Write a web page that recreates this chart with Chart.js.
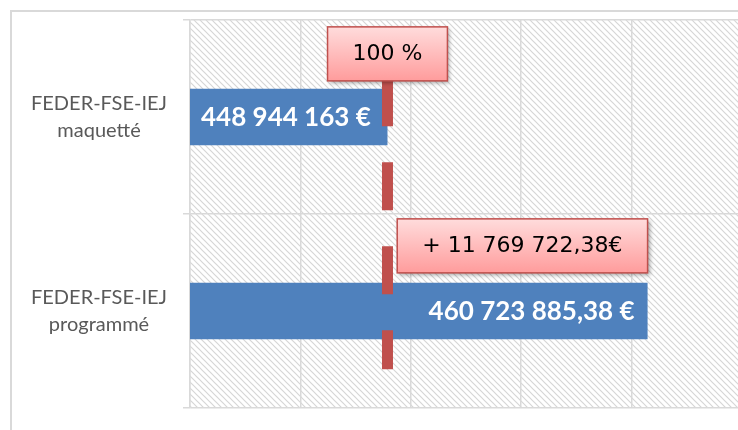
<!DOCTYPE html>
<html>
<head>
<meta charset="utf-8">
<script src="https://cdn.jsdelivr.net/npm/chart.js@4.4.1/dist/chart.umd.min.js"></script>
<style>
  html, body { margin: 0; padding: 0; background: #fff; overflow: hidden; }
  #frame { position: absolute; left: 10px; top: 10px; width: 800px; height: 500px;
           border-top: 2px solid #d9d9d9; border-left: 2px solid #d9d9d9; }
  #wrap { position: absolute; left: 0; top: 0; width: 752px; height: 430px; }
</style>
</head>
<body>
<div id="frame"></div>
<div id="wrap"><canvas id="budgetChart"></canvas></div>
<script>
"use strict"

var categories = [["FEDER-FSE-IEJ", "maquetté"], ["FEDER-FSE-IEJ", "programmé"]];
var amounts = [448944163, 460723885.38];
var amountLabels = ["448 944 163 €", "460 723 885,38 €"];
var targetValue = 448944163;
var calloutLabels = ["100 %", "+ 11 769 722,38€"];
var axisMin = 440000000;
var axisMax = 465000000;
var axisStep = 5000000;

function makeHatch() {
  var c = document.createElement('canvas');
  c.width = 6; c.height = 6;
  var g = c.getContext('2d');
  g.fillStyle = '#fff';
  g.fillRect(0, 0, 6, 6);
  g.strokeStyle = '#d6d6d6';
  g.lineWidth = 1.2;
  g.beginPath();
  g.moveTo(-1, -1); g.lineTo(7, 7);
  g.moveTo(-1, 5); g.lineTo(1, 7);
  g.moveTo(5, -1); g.lineTo(7, 1);
  g.stroke();
  return c;
}

function drawCallout(ctx, text, ax, align, bottom) {
  ctx.font = '22px "DejaVu Sans"';
  var w = ctx.measureText(text).width + 50;
  var h = 54;
  var left = align === 'center' ? ax - w / 2 : ax - w;
  var top = bottom - h;
  var grad = ctx.createLinearGradient(0, top, 0, top + h);
  grad.addColorStop(0, '#ffdcdc');
  grad.addColorStop(1, '#ff9c9c');
  ctx.save();
  ctx.shadowColor = 'rgba(0,0,0,0.35)';
  ctx.shadowBlur = 4;
  ctx.shadowOffsetX = 2;
  ctx.shadowOffsetY = 2;
  ctx.fillStyle = grad;
  ctx.fillRect(left, top, w, h);
  ctx.restore();
  ctx.strokeStyle = '#c0504d';
  ctx.lineWidth = 1.5;
  ctx.strokeRect(left, top, w, h);
  ctx.fillStyle = '#000';
  ctx.textAlign = 'center';
  ctx.textBaseline = 'middle';
  ctx.fillText(text, left + w / 2, top + h / 2);
}

var hatch = makeHatch();

var decorPlugin = {
  id: 'decor',
  beforeDraw: function(chart) {
    var ctx = chart.ctx, a = chart.chartArea;
    ctx.save();
    ctx.fillStyle = ctx.createPattern(hatch, 'repeat');
    ctx.fillRect(a.left, a.top, a.right - a.left, a.bottom - a.top);
    ctx.restore();
  },
  afterDatasetsDraw: function(chart) {
    var ctx = chart.ctx, a = chart.chartArea;
    var xs = chart.scales.x, ys = chart.scales.y;
    var bars = chart.getDatasetMeta(0).data;
    ctx.save();

    // amounts inside the bars
    ctx.font = 'bold 26px Lato';
    ctx.fillStyle = '#fff';
    ctx.textBaseline = 'middle';
    ctx.textAlign = 'left';
    ctx.fillText(amountLabels[0], a.left + 11, bars[0].y + 1);
    ctx.textAlign = 'right';
    ctx.fillText(amountLabels[1], bars[1].x - 13, bars[1].y + 1);

    // dashed 100 % line
    var tx = xs.getPixelForValue(targetValue);
    ctx.strokeStyle = '#c0504d';
    ctx.lineWidth = 11;
    ctx.setLineDash([48, 36]);
    ctx.beginPath();
    ctx.moveTo(tx, ys.getPixelForValue(-0.2));
    ctx.lineTo(tx, ys.getPixelForValue(1.3));
    ctx.stroke();
    ctx.setLineDash([]);

    // callouts
    drawCallout(ctx, calloutLabels[0], tx, 'center', bars[0].y - bars[0].height / 2 - 8);
    drawCallout(ctx, calloutLabels[1], bars[1].x, 'right', bars[1].y - bars[1].height / 2 - 10);
    ctx.restore();
  }
};

var ctx = document.getElementById("budgetChart").getContext('2d');
var budgetChart = new Chart(ctx, {
  type: 'bar',
  data: {
    labels: categories,
    datasets: [{
      data: amounts,
      backgroundColor: '#4f81bd',
      barPercentage: 0.29,
      categoryPercentage: 1
    }]
  },
  options: {
    indexAxis: 'y',
    responsive: true,
    maintainAspectRatio: false,
    animation: false,
    layout: { padding: { left: 12, top: 20, right: 10, bottom: 22 } },
    plugins: {
      legend: { display: false },
      tooltip: { enabled: false }
    },
    scales: {
      x: {
        min: axisMin,
        max: axisMax,
        ticks: { display: false, stepSize: axisStep },
        grid: { color: '#d9d9d9', lineWidth: 1.5, drawTicks: false },
        border: { display: false },
        afterFit: function(scale) { scale.height = 0; }
      },
      y: {
        afterFit: function(scale) {
          scale.width = 178;
          scale.paddingTop = 0;
          scale.paddingBottom = 0;
        },
        ticks: {
          color: '#595959',
          font: { family: 'Lato', size: 20, lineHeight: 1.35 },
          crossAlign: 'center',
          padding: 16
        },
        grid: { color: '#d9d9d9', lineWidth: 1.5, tickLength: 7, offset: true },
        border: { color: '#d9d9d9', width: 1.5 }
      }
    }
  },
  plugins: [decorPlugin]
});
</script>
</body>
</html>
